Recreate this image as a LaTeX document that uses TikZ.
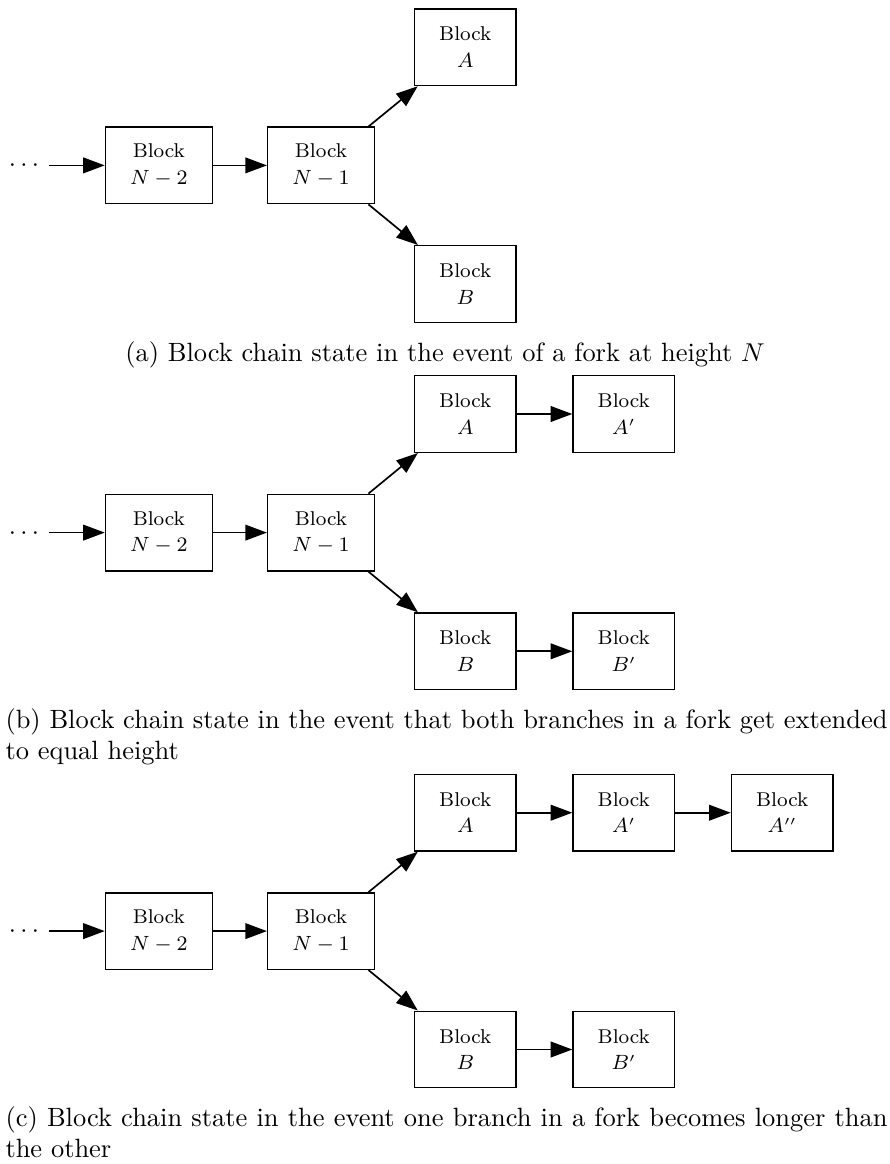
\documentclass[tikz,border=0pt]{standalone}
\usetikzlibrary{arrows.meta}
\tikzset{
  blockbox/.style={draw, line width=0.55pt, inner xsep=9.6pt, inner ysep=0pt,
    minimum height=29.7pt, align=center, font=\fontsize{7.75}{10.35}\selectfont},
  dotsnode/.style={anchor=east, inner xsep=3.8pt, inner ysep=0pt,
    text height=5pt, text depth=0pt, font=\fontsize{10}{12}\selectfont},
  chainarrow/.style={line width=0.65pt, -{Triangle[length=8.4pt,width=6.1pt]}},
  captiontext/.style={font=\fontsize{10.26}{12}\selectfont, inner sep=0pt},
  longcaption/.style={captiontext, anchor=base west, text width=342.3pt, align=justify},
}
\begin{document}
\begin{tikzpicture}[x=0.38808pt, y=-0.38808pt]
\useasboundingbox (0,0) rectangle (889,1164);

% ---- (a) fork at height N
\node[dotsnode] (a0) at (49.3,165.4) {$\cdots$};
\node[blockbox] (a1) at (158.85,165.4) {Block\\$N-2$};
\node[blockbox] (a2) at (321,165.4) {Block\\$N-1$};
\node[blockbox] (aA) at (465.3,47.3) {Block\\$A$};
\node[blockbox] (aB) at (465.3,284) {Block\\$B$};
\draw[chainarrow] (a0) -- (a1);
\draw[chainarrow] (a1) -- (a2);
\draw[chainarrow] (a2) -- (aA);
\draw[chainarrow] (a2) -- (aB);
\node[captiontext, anchor=base] (capa) at (445,362)
  {(a) Block chain state in the event of a fork at height $N$};

% ---- (b) both branches extended
\node[dotsnode] (b0) at (49.3,532.6) {$\cdots$};
\node[blockbox] (b1) at (158.85,532.6) {Block\\$N-2$};
\node[blockbox] (b2) at (321,532.6) {Block\\$N-1$};
\node[blockbox] (bA) at (465.3,414) {Block\\$A$};
\node[blockbox] (bB) at (465.3,651.3) {Block\\$B$};
\node[blockbox] (bA1) at (623.8,414) {Block\\$A'$};
\node[blockbox] (bB1) at (623.8,651.3) {Block\\$B'$};
\draw[chainarrow] (b0) -- (b1);
\draw[chainarrow] (b1) -- (b2);
\draw[chainarrow] (b2) -- (bA);
\draw[chainarrow] (b2) -- (bB);
\draw[chainarrow] (bA) -- (bA1);
\draw[chainarrow] (bB) -- (bB1);
\node[longcaption] (capb) at (5,728.3)
  {(b) Block chain state in the event that both branches in a fork get extended\linebreak to equal height};

% ---- (c) one branch longer
\node[dotsnode] (c0) at (49.3,931.1) {$\cdots$};
\node[blockbox] (c1) at (158.85,931.1) {Block\\$N-2$};
\node[blockbox] (c2) at (321,931.1) {Block\\$N-1$};
\node[blockbox] (cA) at (465.3,812.7) {Block\\$A$};
\node[blockbox] (cB) at (465.3,1049.5) {Block\\$B$};
\node[blockbox] (cA1) at (623.8,812.7) {Block\\$A'$};
\node[blockbox] (cA2) at (782.2,812.7) {Block\\$A''$};
\node[blockbox] (cB1) at (623.8,1049.5) {Block\\$B'$};
\draw[chainarrow] (c0) -- (c1);
\draw[chainarrow] (c1) -- (c2);
\draw[chainarrow] (c2) -- (cA);
\draw[chainarrow] (c2) -- (cB);
\draw[chainarrow] (cA) -- (cA1);
\draw[chainarrow] (cA1) -- (cA2);
\draw[chainarrow] (cB) -- (cB1);
\node[longcaption] (capc) at (5,1126.7)
  {(c) Block chain state in the event one branch in a fork becomes longer than\linebreak the other};
\end{tikzpicture}
\end{document}
